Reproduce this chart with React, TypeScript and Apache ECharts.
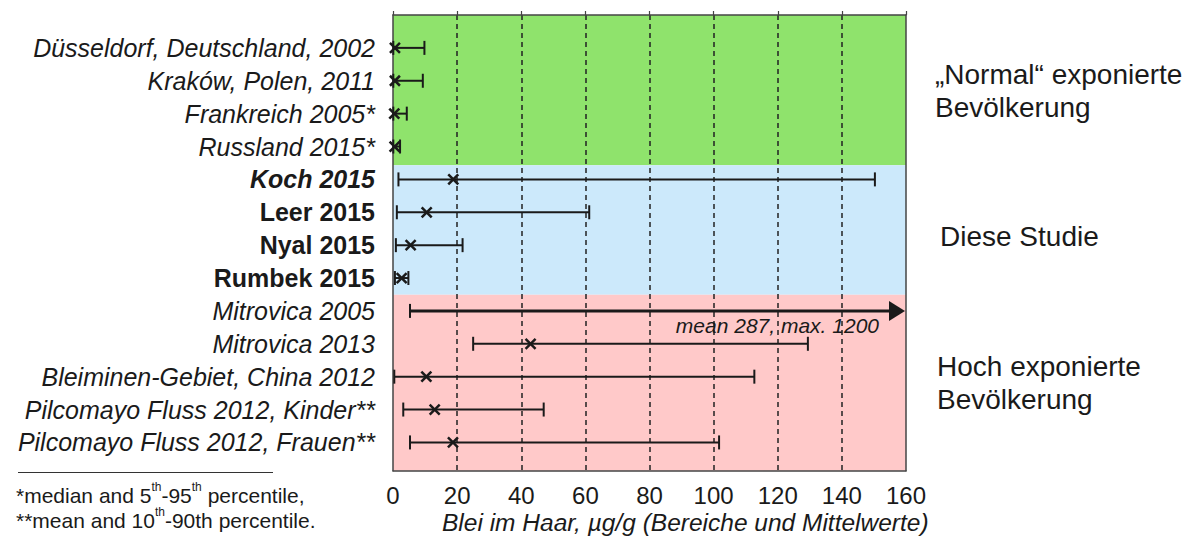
import React, { useEffect, useRef } from "react";
import * as echarts from "echarts";

const categories = [
  "Düsseldorf, Deutschland, 2002",
  "Kraków, Polen, 2011",
  "Frankreich 2005*",
  "Russland 2015*",
  "Koch 2015",
  "Leer 2015",
  "Nyal 2015",
  "Rumbek 2015",
  "Mitrovica 2005",
  "Mitrovica 2013",
  "Bleiminen-Gebiet, China 2012",
  "Pilcomayo Fluss 2012, Kinder**",
  "Pilcomayo Fluss 2012, Frauen**",
];
const labelStyles = ["it", "it", "it", "it", "bi", "b", "b", "b", "it", "it", "it", "it", "it"];
const lowValues = [0.1, 0.1, 0.1, 0.1, 1.7, 1.2, 0.9, 0.6, 5.3, 25.0, 0.4, 3.2, 5.3];
const markValues: (number | null)[] = [0.6, 0.6, 0.4, 0.5, 18.8, 10.5, 5.5, 2.7, null, 42.9, 10.4, 13.0, 18.7];
const highValues = [9.8, 9.3, 4.3, 2.2, 150.3, 61.2, 21.7, 4.8, 1200, 129.4, 112.7, 47.0, 101.7];
const offScaleNote = "mean 287, max. 1200";

const xTicks = { min: 0, max: 160, interval: 20 };
const groupNames = [
  ["„Normal“ exponierte", "Bevölkerung"],
  ["Diese Studie"],
  ["Hoch exponierte", "Bevölkerung"],
];
const groupEdges = [-1, 3.57, 7.51, 12.86];
const groupColors = ["#8fe36c", "#cce9fb", "#ffc9c9"];
const axisTitle = "Blei im Haar, µg/g (Bereiche und Mittelwerte)";
const footnotes = [
  "{t|*median and 5}{s|th}{t|-95}{s|th}{t| percentile,}",
  "{t|**mean and 10}{s|th}{t|-90th percentile.}",
];

const FONT = "'Liberation Sans', Arial, sans-serif";
const INK = "#1a1a1a";

export default function App() {
  const ref = useRef<HTMLDivElement>(null);
  useEffect(() => {
    if (!ref.current) return;
    const chart = echarts.init(ref.current, undefined, { renderer: "svg" });
    const rowValues = categories.map((_, i) => i);

    const groupTextPos = [
      { x: 935, y: 58 },
      { x: 940, y: 220 },
      { x: 937, y: 350 },
    ];

    const graphics: any[] = [];
    groupNames.forEach((lines, g) => {
      graphics.push({
        type: "text",
        left: groupTextPos[g].x,
        top: groupTextPos[g].y,
        style: {
          text: lines.join("\n"),
          font: `28px ${FONT}`,
          lineHeight: 33,
          fill: INK,
        },
      });
    });
    graphics.push({
      type: "text",
      left: 442,
      top: 510,
      style: { text: axisTitle, font: `italic 24.5px ${FONT}`, fill: INK },
    });
    graphics.push({
      type: "line",
      shape: { x1: 18, y1: 472.5, x2: 273, y2: 472.5 },
      style: { stroke: "#333", lineWidth: 1 },
    });
    graphics.push({
      type: "text",
      left: 16,
      top: 481,
      style: {
        text: footnotes.join("\n"),
        fill: INK,
        rich: {
          t: { fontSize: 21, fontFamily: FONT, fill: INK, lineHeight: 25, verticalAlign: "bottom" },
          s: { fontSize: 12, fontFamily: FONT, fill: INK, lineHeight: 25, verticalAlign: "top" },
        },
      },
    });

    const option: any = {
      animation: false,
      grid: { left: 393, right: 287, top: 15, bottom: 71.3 },
      xAxis: [
        {
          type: "value",
          position: "bottom",
          min: xTicks.min,
          max: xTicks.max,
          interval: xTicks.interval,
          z: 5,
          axisLine: { show: true, onZero: false, lineStyle: { color: "#444", width: 1.5 } },
          axisTick: { show: false },
          axisLabel: { fontSize: 24, color: INK, fontFamily: FONT, margin: 13 },
          splitLine: {
            show: true,
            showMinLine: false,
            showMaxLine: false,
            lineStyle: { color: "#222", width: 1.5, type: [5, 4] },
          },
        },
        {
          type: "value",
          position: "top",
          min: xTicks.min,
          max: xTicks.max,
          interval: xTicks.interval,
          z: 5,
          axisLine: { show: true, onZero: false, lineStyle: { color: "#444", width: 1.5 } },
          axisTick: { show: true, inside: false, length: 4, lineStyle: { color: "#444", width: 1.2 } },
          axisLabel: { show: false },
          splitLine: { show: false },
        },
      ],
      yAxis: [
        {
          type: "value",
          inverse: true,
          min: groupEdges[0],
          max: groupEdges[groupEdges.length - 1],
          position: "left",
          z: 5,
          axisLine: { show: true, onZero: false, lineStyle: { color: "#444", width: 1.5 } },
          axisTick: { show: false },
          splitLine: { show: false },
          axisLabel: {
            customValues: rowValues,
            margin: 18,
            formatter: (v: number) => {
              const i = Math.round(v);
              return `{${labelStyles[i]}|${categories[i]}}`;
            },
            rich: {
              it: { fontSize: 25, fontStyle: "italic", fontFamily: FONT, color: INK },
              b: { fontSize: 25, fontWeight: "bold", fontFamily: FONT, color: INK },
              bi: { fontSize: 25, fontWeight: "bold", fontStyle: "italic", fontFamily: FONT, color: INK },
            },
          },
        },
        {
          type: "value",
          inverse: true,
          min: groupEdges[0],
          max: groupEdges[groupEdges.length - 1],
          position: "right",
          z: 5,
          axisLine: { show: true, onZero: false, lineStyle: { color: "#444", width: 1.5 } },
          axisTick: { show: false },
          axisLabel: { show: false },
          splitLine: { show: false },
        },
      ],
      series: [
        {
          type: "custom",
          z: 10,
          data: categories.map((_, i) => [lowValues[i], i, highValues[i]]),
          encode: { x: [0, 2], y: 1 },
          clip: false,
          markArea: {
            silent: true,
            z: 1,
            data: groupColors.map((c, g) => [
              { yAxis: groupEdges[g], itemStyle: { color: c } },
              { yAxis: groupEdges[g + 1] },
            ]),
          },
          renderItem: (params: any, api: any) => {
            const lo = api.value(0);
            const row = api.value(1);
            const hi = api.value(2);
            const mark = markValues[params.dataIndex];
            const offScale = hi > xTicks.max;
            const p0 = api.coord([lo, row]);
            const p1 = api.coord([Math.min(hi, xTicks.max), row]);
            const y = p0[1];
            const lw = offScale ? 3 : 2;
            const st = { stroke: INK, lineWidth: lw };
            const children: any[] = [
              {
                type: "line",
                shape: { x1: p0[0], y1: y, x2: offScale ? p1[0] - 12 : p1[0], y2: y },
                style: st,
              },
              { type: "line", shape: { x1: p0[0], y1: y - 7, x2: p0[0], y2: y + 7 }, style: { stroke: INK, lineWidth: 2 } },
            ];
            if (offScale) {
              children.push({
                type: "polygon",
                shape: { points: [[p1[0] - 17, y - 10], [p1[0] - 1, y], [p1[0] - 17, y + 10]] },
                style: { fill: INK },
              });
              children.push({
                type: "text",
                x: p1[0] - 27,
                y: y + 15,
                style: {
                  text: offScaleNote,
                  font: `italic 21px ${FONT}`,
                  fill: INK,
                  align: "right",
                  verticalAlign: "middle",
                },
              });
            } else {
              children.push({
                type: "line",
                shape: { x1: p1[0], y1: y - 7, x2: p1[0], y2: y + 7 },
                style: { stroke: INK, lineWidth: 2 },
              });
            }
            if (mark !== null && mark !== undefined) {
              const pm = api.coord([mark, row]);
              const s = 5;
              children.push({
                type: "line",
                shape: { x1: pm[0] - s, y1: y - s, x2: pm[0] + s, y2: y + s },
                style: { stroke: INK, lineWidth: 2.5 },
              });
              children.push({
                type: "line",
                shape: { x1: pm[0] - s, y1: y + s, x2: pm[0] + s, y2: y - s },
                style: { stroke: INK, lineWidth: 2.5 },
              });
            }
            return { type: "group", children };
          },
        },
      ],
      graphic: graphics,
    };
    chart.setOption(option);
    return () => chart.dispose();
  }, []);
  return (
    <div
      ref={ref}
      style={{ position: "fixed", left: 0, top: 0, width: 1193, height: 542, background: "#fff" }}
    />
  );
}
